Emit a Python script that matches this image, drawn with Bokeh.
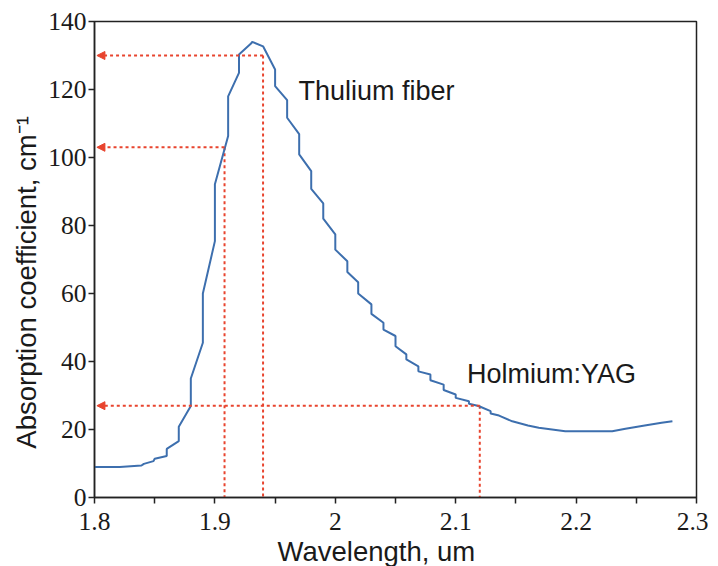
from bokeh.plotting import figure
from bokeh.models import FixedTicker, Arrow, NormalHead, ColumnDataSource
from bokeh.core.properties import value
from bokeh.embed import file_html
from bokeh.resources import INLINE

# ---- data ----
wavelength = [1.800, 1.821, 1.839, 1.841, 1.849, 1.850, 1.860, 1.860, 1.870, 1.870,
              1.880, 1.880, 1.890, 1.890, 1.900, 1.900, 1.911, 1.911, 1.920, 1.920,
              1.930, 1.931, 1.940, 1.950, 1.950, 1.960, 1.960, 1.970, 1.970, 1.980,
              1.980, 1.990, 1.990, 2.000, 2.000, 2.010, 2.010, 2.019, 2.019, 2.030,
              2.030, 2.040, 2.040, 2.050, 2.050, 2.059, 2.059, 2.069, 2.069, 2.079,
              2.079, 2.090, 2.090, 2.100, 2.100, 2.111, 2.111, 2.119, 2.129, 2.129,
              2.136, 2.147, 2.160, 2.169, 2.180, 2.191, 2.230, 2.241, 2.257, 2.271,
              2.280]
absorption = [9.0, 9.0, 9.4, 9.9, 10.7, 11.4, 12.2, 14.3, 16.6, 20.8,
              26.9, 35.0, 45.5, 60.0, 75.4, 92.1, 106.3, 118.0, 124.9, 130.3,
              133.5, 134.0, 132.7, 125.9, 121.0, 116.9, 111.7, 106.9, 100.9, 96.0,
              90.8, 86.5, 82.0, 77.4, 72.9, 69.5, 66.3, 63.3, 60.0, 56.8,
              54.0, 51.4, 49.4, 47.5, 44.5, 42.1, 40.6, 38.6, 37.1, 36.2,
              34.5, 33.2, 31.6, 30.3, 29.3, 28.3, 27.6, 26.9, 25.4, 24.7,
              24.1, 22.4, 21.2, 20.5, 20.0, 19.5, 19.5, 20.2, 21.2, 22.0,
              22.4]

marker_x = [1.940, 1.908, 2.120]
marker_y = [130.0, 103.0, 27.0]

label_text = ["Thulium fiber", "Holmium:YAG"]
label_x = [1.9694, 2.1093]
label_y = [116.9, 33.7]

x_ticks = [1.8, 1.85, 1.9, 1.95, 2.0, 2.05, 2.1, 2.15, 2.2, 2.25, 2.3]
x_tick_labels = ["1.8", "", "1.9", "", "2", "", "2.1", "", "2.2", "", "2.3"]
y_ticks = [0, 20, 40, 60, 80, 100, 120, 140]

X_MIN, X_MAX = 1.8, 2.3
Y_MIN, Y_MAX = 0, 140

BLUE = "#3d6fae"
RED = "#e8442e"
INK = "#1a1a1a"

p = figure(x_range=(X_MIN, X_MAX), y_range=(Y_MIN, Y_MAX),
           frame_width=602, frame_height=476,
           min_border_left=94, min_border_right=12,
           min_border_top=21, min_border_bottom=68,
           output_backend="svg", toolbar_location=None)

p.background_fill_color = "white"
p.border_fill_color = "white"
p.outline_line_color = "#222222"
p.outline_line_width = 1.5
p.xgrid.visible = False
p.ygrid.visible = False

p.xaxis.ticker = FixedTicker(ticks=x_ticks, minor_ticks=[])
p.xaxis.major_label_overrides = {t: l for t, l in zip(x_ticks, x_tick_labels)}
p.yaxis.ticker = FixedTicker(ticks=y_ticks, minor_ticks=[])

for ax in (p.xaxis[0], p.yaxis[0]):
    ax.axis_line_color = "#222222"
    ax.axis_line_width = 1.5
    ax.major_tick_line_color = "#222222"
    ax.major_tick_line_width = 1.5
    ax.major_tick_in = 0
    ax.major_tick_out = 6
    ax.minor_tick_in = 0
    ax.minor_tick_out = 0
    ax.major_label_text_font = "Liberation Serif"
    ax.major_label_text_font_size = "25.5px"
    ax.major_label_text_color = INK
    ax.axis_label_text_font = "Liberation Sans"
    ax.axis_label_text_font_size = "27.5px"
    ax.axis_label_text_font_style = "normal"
    ax.axis_label_text_color = INK

p.xaxis.axis_label = "Wavelength, um" + "\u00a0" * 5
p.yaxis.axis_label = "Absorption coefficient, cm\u207b\u00b9" + "\u00a0" * 6
p.xaxis.major_label_standoff = 9
p.xaxis.axis_label_standoff = 3
p.yaxis.major_label_standoff = 2
p.yaxis.axis_label_standoff = 3

# red dashed guide lines
p.segment(x0=marker_x, y0=marker_y, x1=marker_x, y1=[Y_MIN] * len(marker_x),
          line_color=RED, line_width=2, line_dash="3 3")
for mx, my in zip(marker_x, marker_y):
    p.add_layout(Arrow(x_start=mx, y_start=my, x_end=X_MIN + 0.002, y_end=my,
                       line_color=RED, line_width=2, line_dash="3 3",
                       end=NormalHead(size=8, fill_color=RED, line_color=RED, line_width=1)))

# absorption curve
p.line(wavelength, absorption, line_color=BLUE, line_width=2)

# annotations
src = ColumnDataSource(dict(x=label_x, y=label_y, t=label_text))
p.text(x="x", y="y", text="t", source=src, text_font=value("Liberation Sans"),
       text_font_size="27px", text_color=INK, text_align="left",
       text_baseline="alphabetic", y_offset=-9)

open("out.html", "w").write(file_html(p, INLINE))
